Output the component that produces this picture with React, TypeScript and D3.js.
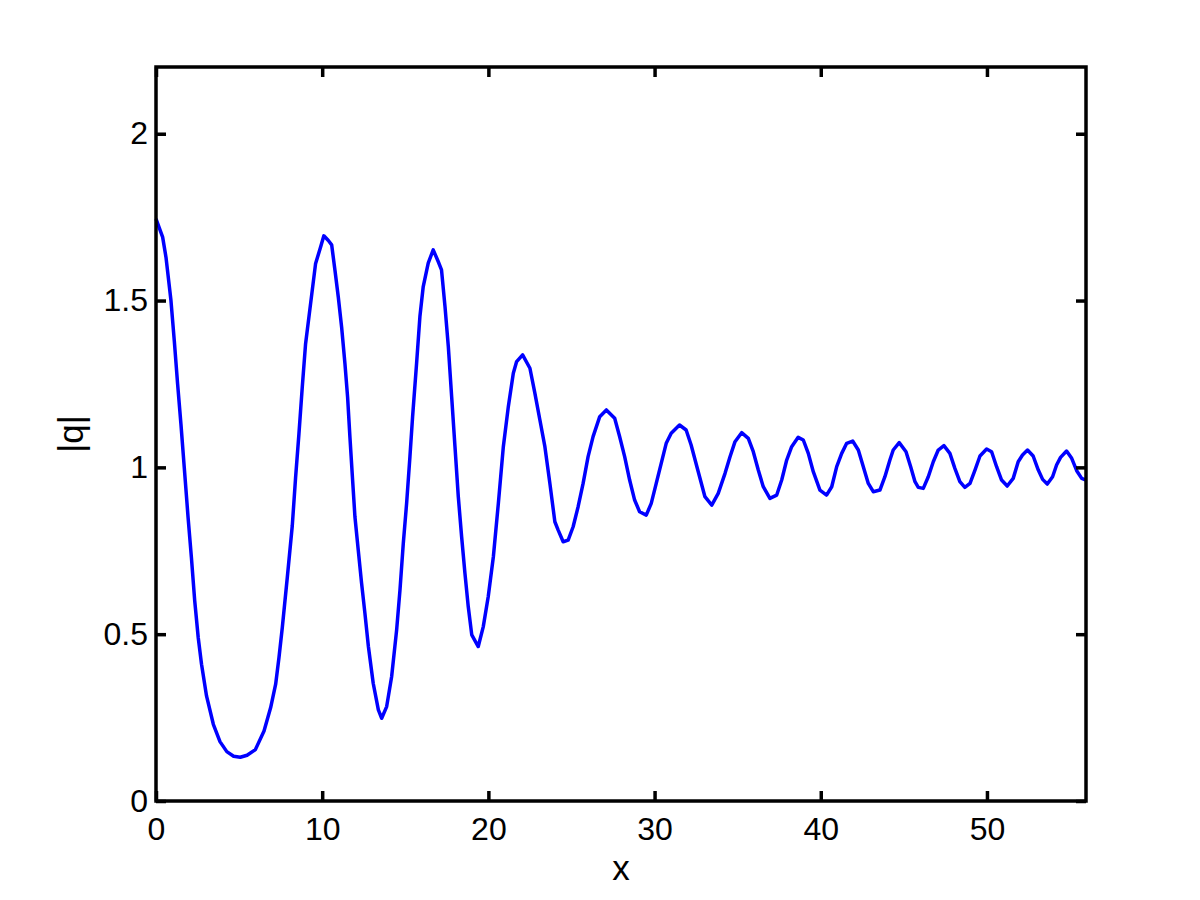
import React, { useEffect, useRef } from "react";
import * as d3 from "d3";

const xValues = [
  0, 0.4, 0.6, 0.9, 1.1, 1.3, 1.5, 1.7, 1.93, 2.13, 2.33, 2.54, 2.74, 3.04, 3.45, 3.85,
  4.26, 4.67, 5.07, 5.48, 5.98, 6.5, 6.9, 7.2, 7.4, 7.6, 7.9, 8.2, 8.4, 8.6, 8.8, 9.0,
  9.3, 9.6, 9.9, 10.1, 10.37, 10.57, 10.77, 10.97, 11.17, 11.37, 11.53, 11.67, 11.83, 11.97,
  12.17, 12.37, 12.57, 12.78, 13.07, 13.38, 13.58, 13.88, 14.18, 14.48, 14.68, 14.88, 15.08,
  15.28, 15.44, 15.68, 15.88, 16.08, 16.38, 16.68, 16.98, 17.18, 17.39, 17.59, 17.79, 17.99,
  18.19, 18.39, 18.59, 18.79, 19.0, 19.39, 19.69, 19.99, 20.3, 20.6, 20.9, 21.2, 21.5, 21.7,
  22.06, 22.5, 22.8, 23.1, 23.4, 23.7, 24.0, 24.2, 24.5, 24.8, 25.1, 25.4, 25.7, 26.0, 26.3,
  26.7, 27.1, 27.6, 27.9, 28.2, 28.5, 28.8, 29.1, 29.5, 29.8, 30.1, 30.4, 30.7, 31.0, 31.5,
  31.9, 32.2, 32.6, 33.03, 33.44, 33.83, 34.24, 34.54, 34.84, 35.24, 35.64, 35.94, 36.24,
  36.54, 36.94, 37.35, 37.65, 37.95, 38.25, 38.64, 38.95, 39.25, 39.55, 39.95, 40.35, 40.66,
  40.96, 41.26, 41.56, 41.92, 42.26, 42.56, 42.86, 43.16, 43.56, 43.86, 44.16, 44.36, 44.72,
  45.13, 45.41, 45.67, 45.87, 46.17, 46.47, 46.77, 47.07, 47.41, 47.77, 48.07, 48.37, 48.67,
  48.98, 49.28, 49.58, 49.98, 50.28, 50.58, 50.88, 51.22, 51.58, 51.88, 52.14, 52.44, 52.78,
  53.09, 53.35, 53.63, 53.95, 54.19, 54.43, 54.79, 55.1, 55.4, 55.7, 55.96
];
const qValues = [
  1.745, 1.69, 1.63, 1.5, 1.38, 1.25, 1.13, 1.0, 0.85, 0.73, 0.6, 0.49, 0.41, 0.315, 0.23, 0.178,
  0.148, 0.134, 0.131, 0.137, 0.154, 0.21, 0.28, 0.35, 0.43, 0.52, 0.67, 0.825, 0.97, 1.1, 1.24, 1.37,
  1.49, 1.61, 1.66, 1.694, 1.68, 1.667, 1.59, 1.51, 1.42, 1.31, 1.21, 1.09, 0.962, 0.852,
  0.752, 0.653, 0.563, 0.463, 0.353, 0.273, 0.248, 0.283, 0.373, 0.513, 0.632, 0.772, 0.892,
  1.032, 1.152, 1.312, 1.452, 1.542, 1.612, 1.652, 1.617, 1.592, 1.482, 1.362, 1.212, 1.062,
  0.912, 0.792, 0.682, 0.582, 0.498, 0.463, 0.522, 0.612, 0.732, 0.892, 1.062, 1.182, 1.282, 1.317,
  1.337, 1.297, 1.222, 1.142, 1.062, 0.952, 0.837, 0.812, 0.777, 0.782, 0.822, 0.882, 0.952, 1.032, 1.092,
  1.152, 1.172, 1.147, 1.092, 1.032, 0.962, 0.902, 0.867, 0.857, 0.892, 0.952, 1.012, 1.072, 1.102, 1.127,
  1.112, 1.067, 0.992, 0.912, 0.887, 0.922, 0.982, 1.032, 1.077, 1.104, 1.087, 1.047, 0.992,
  0.942, 0.907, 0.917, 0.962, 1.022, 1.062, 1.09, 1.082, 1.042, 0.987, 0.932, 0.917, 0.942,
  1.002, 1.042, 1.072, 1.079, 1.052, 1.002, 0.952, 0.927, 0.932, 0.972, 1.022, 1.052, 1.074,
  1.047, 1.002, 0.957, 0.94, 0.937, 0.972, 1.017, 1.052, 1.065, 1.042, 0.997, 0.957, 0.94,
  0.952, 0.992, 1.034, 1.055, 1.047, 1.002, 0.962, 0.944, 0.967, 1.017, 1.037, 1.052, 1.034,
  0.992, 0.964, 0.95, 0.972, 1.007, 1.03, 1.049, 1.027, 0.99, 0.967, 0.962
];

const xTicks = [0, 10, 20, 30, 40, 50];
const yTicks = [0, 0.5, 1, 1.5, 2];
const xLabel = "x";
const yLabel = "|q|";

export default function App() {
  const ref = useRef<SVGSVGElement>(null);

  useEffect(() => {
    const svg = d3.select(ref.current);
    svg.selectAll("*").remove();

    const width = 1200, height = 900;
    const left = 156, right = 1086, top = 67, bottom = 801;
    const font = "'Liberation Sans', Arial, Helvetica, sans-serif";
    const fontSize = 32;
    const labelSize = 35;

    const x = d3.scaleLinear().domain([0, 55.96]).range([left, right]);
    const y = d3.scaleLinear().domain([0, 2.2]).range([bottom, top]);

    svg.append("rect").attr("width", width).attr("height", height).attr("fill", "#fff");

    // the curve
    const line = d3.line<number>()
      .x((d, i) => x(xValues[i]))
      .y(d => y(d));
    svg.append("path")
      .datum(qValues)
      .attr("d", line)
      .attr("fill", "none")
      .attr("stroke", "#0000ff")
      .attr("stroke-width", 3.5)
      .attr("stroke-linejoin", "round");

    const styleAxis = (g: any) => {
      g.select(".domain").remove();
      g.selectAll(".tick line").attr("stroke", "#000").attr("stroke-width", 3.5);
      g.selectAll("text").attr("fill", "#000").style("font-family", font).style("font-size", fontSize + "px");
    };

    // bottom + left with labels, top + right ticks only
    svg.append("g")
      .attr("transform", "translate(0," + bottom + ")")
      .call(d3.axisBottom(x).tickValues(xTicks).tickSize(-10).tickPadding(16).tickFormat(d3.format("d")))
      .call(styleAxis);
    svg.append("g")
      .attr("transform", "translate(" + left + ",0)")
      .call(d3.axisLeft(y).tickValues(yTicks).tickSize(-10).tickPadding(8).tickFormat(d => String(d)))
      .call(styleAxis);
    svg.append("g")
      .attr("transform", "translate(0," + top + ")")
      .call(d3.axisTop(x).tickValues(xTicks).tickSize(-10).tickFormat(() => ""))
      .call(styleAxis);
    svg.append("g")
      .attr("transform", "translate(" + right + ",0)")
      .call(d3.axisRight(y).tickValues(yTicks).tickSize(-10).tickFormat(() => ""))
      .call(styleAxis);

    // box
    svg.append("rect")
      .attr("x", left).attr("y", top)
      .attr("width", right - left).attr("height", bottom - top)
      .attr("fill", "none")
      .attr("stroke", "#000")
      .attr("stroke-width", 3.5);

    // axis labels
    svg.append("text")
      .attr("x", (left + right) / 2)
      .attr("y", 880)
      .attr("text-anchor", "middle")
      .style("font-family", font)
      .style("font-size", labelSize + "px")
      .text(xLabel);
    svg.append("text")
      .attr("transform", "translate(83," + (top + bottom) / 2 + ") rotate(-90)")
      .attr("text-anchor", "middle")
      .style("font-family", font)
      .style("font-size", labelSize + "px")
      .text(yLabel);
  }, []);

  return (
    <svg ref={ref} width={1200} height={900}
      style={{ position: "absolute", left: 0, top: 0, display: "block" }} />
  );
}
